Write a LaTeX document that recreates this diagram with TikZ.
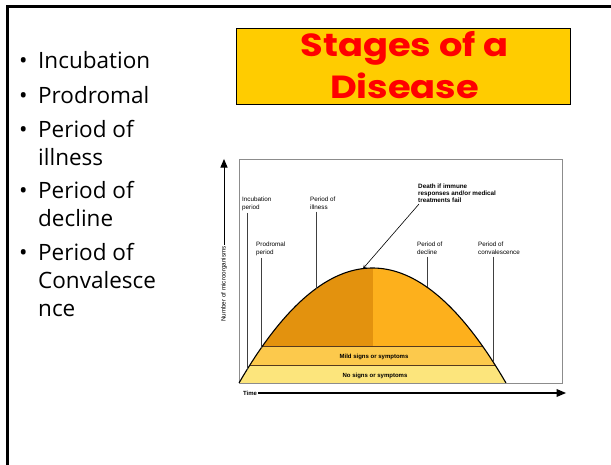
\documentclass[tikz,border=0pt]{standalone}
\usepackage{fontspec}
\setmainfont{Open Sans}
\newfontfamily\titlefont[FakeStretch=1.15]{Poppins}
\newfontfamily\labelfont{Liberation Sans}
\usetikzlibrary{arrows}

\definecolor{titlegold}{HTML}{FFCC00}
\definecolor{titlered}{HTML}{FF0000}
\definecolor{noband}{HTML}{FCE57C}
\definecolor{mildband}{HTML}{FCC94C}
\definecolor{illdark}{HTML}{E3920E}
\definecolor{illlight}{HTML}{FDB01C}

\tikzset{
    bullet/.style={anchor=base west, inner sep=0pt, font=\fontsize{22.5}{22.5}\selectfont},
    titletext/.style={anchor=base, inner sep=0pt, text=titlered,
        font=\titlefont\bfseries\fontsize{32}{32}\selectfont},
    stagelabel/.style={anchor=north west, inner sep=0pt, align=left,
        font=\labelfont\fontsize{6.3}{8}\selectfont},
    stageline/.style={draw=black!75, line width=0.5pt},
    band/.style={draw=black!55!brown, line width=0.6pt}
}

\begin{document}
\begin{tikzpicture}[x=1pt, y=-1pt]
    \useasboundingbox (0,0) rectangle (611,465);

    % slide frame
    \draw[line width=2.5pt] (7.5,465) -- (7.5,6.5) -- (611,6.5);

    % bullet list
    \foreach \y in {69, 104, 138, 199, 261} {
        \node[bullet] at (19,\y) {\textbullet};
    }
    \node[bullet] (b1) at (38,69) {Incubation};
    \node[bullet] (b2) at (38,104) {Prodromal};
    \node[bullet] (b3) at (38,138) {Period of};
    \node[bullet] (b3a) at (38,166) {illness};
    \node[bullet] (b4) at (38,199) {Period of};
    \node[bullet] (b4a) at (38,227) {decline};
    \node[bullet] (b5) at (38,261) {Period of};
    \node[bullet] (b5a) at (38,289) {Convalesce};
    \node[bullet] (b5b) at (38,317) {nce};

    % title
    \filldraw[fill=titlegold, line width=0.8pt] (236,28) rectangle (570,104);
    \node[titletext] (title1) at (404.5,57) {Stages of a};
    \node[titletext] (title2) at (404.5,99) {Disease};

    % graph frame
    \draw[black!45, line width=0.5pt] (239,159) rectangle (562,383);

    % curve filled in bands
    \begin{scope}
        \clip plot[domain=239:506, samples=80] (\x,{383-115*(1-((\x-372.5)/133.5)^2)}) -- cycle;
        \fill[noband] (239,383) rectangle (506,365);
        \fill[mildband] (239,365) rectangle (506,346);
        \fill[illdark] (239,346) rectangle (373,260);
        \fill[illlight] (373,346) rectangle (506,260);
        \draw[band] (239,365) -- (506,365);
        \draw[band] (239,346) -- (506,346);
    \end{scope}
    \draw[line width=1.1pt] plot[domain=239:506, samples=80] (\x,{383-115*(1-((\x-372.5)/133.5)^2)});
    \draw[black!45, line width=0.5pt] (239,383) -- (562,383);

    \node[font=\labelfont\bfseries\fontsize{6}{6}\selectfont] (mild) at (374,356.5) {Mild signs or symptoms};
    \node[font=\labelfont\bfseries\fontsize{6}{6}\selectfont] (none) at (375,376) {No signs or symptoms};

    % stage labels
    \node[stagelabel] (inc) at (242,197) {Incubation\\period};
    \node[stagelabel] (pro) at (256,242) {Prodromal\\period};
    \node[stagelabel] (ill) at (310,197) {Period of\\illness};
    \node[stagelabel] (dec) at (417,242) {Period of\\decline};
    \node[stagelabel] (con) at (478,242) {Period of\\convalescence};
    \node[stagelabel, font=\labelfont\bfseries\fontsize{6.3}{7}\selectfont] (death) at (418,184)
        {Death if immune\\responses and/or medical\\treatments fail};

    \coordinate (cinc) at (247,{383-115*(1-((247-372.5)/133.5)^2)});
    \coordinate (cpro) at (261,{383-115*(1-((261-372.5)/133.5)^2)});
    \coordinate (cill) at (316,{383-115*(1-((316-372.5)/133.5)^2)});
    \coordinate (cdec) at (427,{383-115*(1-((427-372.5)/133.5)^2)});
    \coordinate (ccon) at (493,{383-115*(1-((493-372.5)/133.5)^2)});
    \coordinate (cpeak) at (363,{383-115*(1-((363-372.5)/133.5)^2)});

    \draw[stageline] ([yshift=-1.5pt]inc.south -| cinc) -- (cinc);
    \draw[stageline] ([yshift=-1.5pt]pro.south -| cpro) -- (cpro);
    \draw[stageline] ([yshift=-1.5pt]ill.south -| cill) -- (cill);
    \draw[stageline] ([yshift=-1.5pt]dec.south -| cdec) -- (cdec);
    \draw[stageline] ([yshift=-1.5pt]con.south -| ccon) -- (ccon);
    \draw[->, >=stealth, line width=0.6pt] ([xshift=1pt,yshift=-1pt]death.south west) -- (cpeak);

    % axes
    \node[rotate=90, font=\labelfont\fontsize{6.3}{6.3}\selectfont, inner sep=1pt] (ylab) at (224,284) {Number of microorganisms};
    \coordinate (ytop) at (224,159);
    \draw[-triangle 45, line width=1pt] (ylab.east) -- (ytop);
    \node[font=\labelfont\bfseries\fontsize{6}{6}\selectfont, inner sep=1pt] (time) at (250,393) {Time};
    \coordinate (xend) at (566,393);
    \draw[-triangle 45, line width=1.2pt] (time.east) -- (xend);
\end{tikzpicture}
\end{document}
